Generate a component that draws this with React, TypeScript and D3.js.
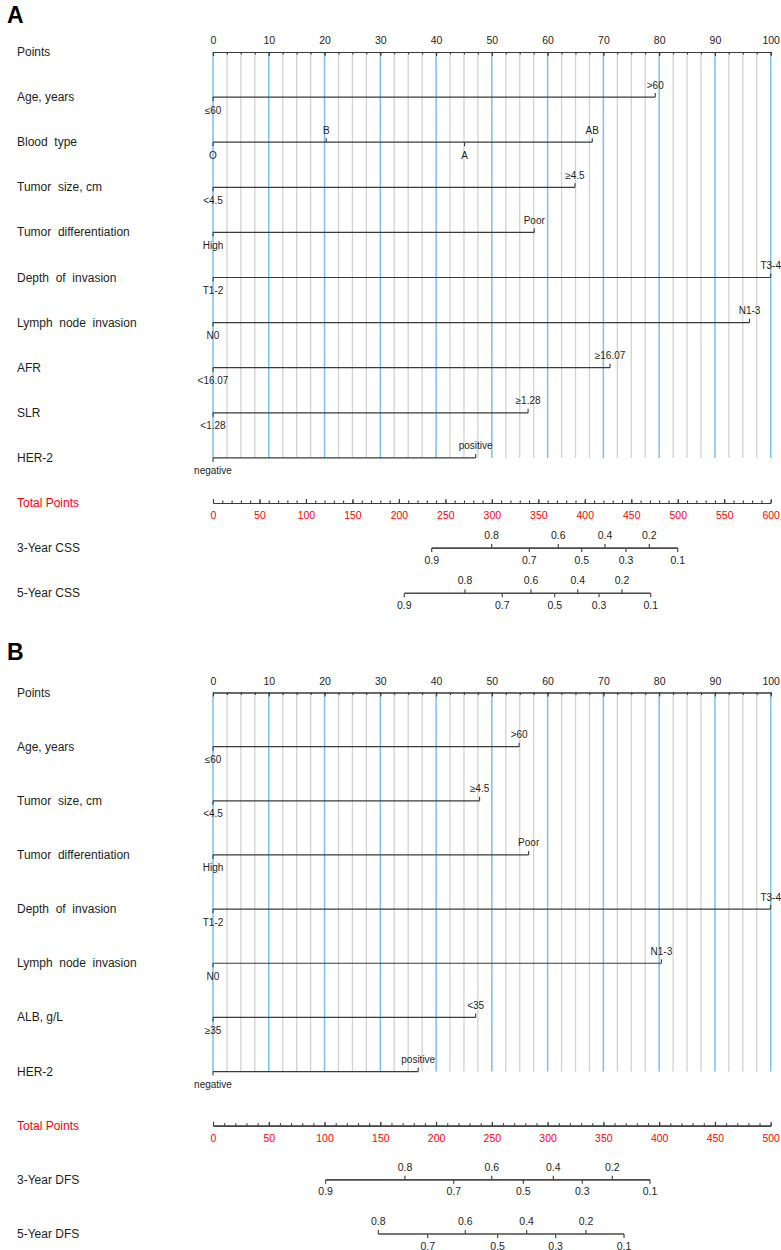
import React, { useEffect, useRef } from 'react';
import * as d3 from 'd3';

const WIDTH = 781;
const HEIGHT = 1250;
const FONT = '"Liberation Sans", Arial, Helvetica, sans-serif';

// ---- Panel A: cancer-specific survival nomogram ----
const pointsTicks = [0, 10, 20, 30, 40, 50, 60, 70, 80, 90, 100];

const factorNamesA = [
  'Age, years',
  'Blood  type',
  'Tumor  size, cm',
  'Tumor  differentiation',
  'Depth  of  invasion',
  'Lymph  node  invasion',
  'AFR',
  'SLR',
  'HER-2',
];
const factorLevelsA = [
  ['≤60', '>60'],
  ['O', 'B', 'A', 'AB'],
  ['<4.5', '≥4.5'],
  ['High', 'Poor'],
  ['T1-2', 'T3-4'],
  ['N0', 'N1-3'],
  ['<16.07', '≥16.07'],
  ['<1.28', '≥1.28'],
  ['negative', 'positive'],
];
const factorPointsA = [
  [0, 79.3],
  [0, 20.3, 45.1, 68],
  [0, 64.9],
  [0, 57.6],
  [0, 100],
  [0, 96.2],
  [0, 71.2],
  [0, 56.5],
  [0, 47.1],
];
const totalTicksA = [0, 50, 100, 150, 200, 250, 300, 350, 400, 450, 500, 550, 600];
const survivalNamesA = ['3-Year CSS', '5-Year CSS'];
const survivalProbsA = [
  [0.9, 0.8, 0.7, 0.6, 0.5, 0.4, 0.3, 0.2, 0.1],
  [0.9, 0.8, 0.7, 0.6, 0.5, 0.4, 0.3, 0.2, 0.1],
];
// total points at which each probability tick sits
const survivalTotalsA = [
  [235.3, 299.8, 340.3, 371.5, 396.7, 421.7, 444.3, 469.4, 500],
  [205.8, 271.1, 311.2, 342.1, 367.6, 392.4, 415.3, 440, 470.9],
];

// ---- Panel B: disease-free survival nomogram ----
const factorNamesB = [
  'Age, years',
  'Tumor  size, cm',
  'Tumor  differentiation',
  'Depth  of  invasion',
  'Lymph  node  invasion',
  'ALB, g/L',
  'HER-2',
];
const factorLevelsB = [
  ['≤60', '>60'],
  ['<4.5', '≥4.5'],
  ['High', 'Poor'],
  ['T1-2', 'T3-4'],
  ['N0', 'N1-3'],
  ['≥35', '<35'],
  ['negative', 'positive'],
];
const factorPointsB = [
  [0, 54.9],
  [0, 47.8],
  [0, 56.6],
  [0, 100],
  [0, 80.4],
  [0, 47.1],
  [0, 36.8],
];
const totalTicksB = [0, 50, 100, 150, 200, 250, 300, 350, 400, 450, 500];
const survivalNamesB = ['3-Year DFS', '5-Year DFS'];
const survivalProbsB = [
  [0.9, 0.8, 0.7, 0.6, 0.5, 0.4, 0.3, 0.2, 0.1],
  [0.8, 0.7, 0.6, 0.5, 0.4, 0.3, 0.2, 0.1],
];
const survivalTotalsB = [
  [101, 172.1, 215.8, 249.9, 278.2, 305.1, 331.1, 358, 391.8],
  [148.2, 192.5, 226.2, 255.2, 281.2, 307.2, 334.4, 368.5],
];

interface PanelOpts {
  letter: string;
  letterY: number;
  top: number;
  step: number;
  factorNames: string[];
  factorLevels: string[][];
  factorPoints: number[][];
  totalTicks: number[];
  survivalNames: string[];
  survivalProbs: number[][];
  survivalTotals: number[][];
}

const X0 = 213;
const X1 = 770.7;
const LABEL_X = 17;
const INK = '#1e1e1e';
const LINE = '#3a3a3a';
const BLUE = '#7cc1ea';
const GRAY = '#d2d2d2';
const RED = '#ff0000';

function drawPanel(svg: d3.Selection<SVGSVGElement, unknown, null, undefined>, o: PanelOpts) {
  const g = svg.append('g');
  const rows = ['Points', ...o.factorNames, 'Total Points', ...o.survivalNames];
  const y = d3.scalePoint<string>()
    .domain(rows)
    .range([o.top, o.top + o.step * (rows.length - 1)]);

  const xPts = d3.scaleLinear().domain([0, 100]).range([X0, X1]);
  const maxTotal = o.totalTicks[o.totalTicks.length - 1];
  const xTot = d3.scaleLinear().domain([0, maxTotal]).range([X0, X1]);

  const yPoints = y('Points')!;
  const yLastFactor = y(o.factorNames[o.factorNames.length - 1])!;
  const yTotal = y('Total Points')!;

  // panel letter
  g.append('text')
    .attr('x', 7)
    .attr('y', o.letterY)
    .attr('font-family', FONT)
    .attr('font-size', 23)
    .attr('font-weight', 'bold')
    .attr('fill', '#000')
    .text(o.letter);

  // minor points step is 2.5 (d3's nice ticks can't produce it)
  const minorPts = d3.range(0, 100.001, 2.5);

  // --- vertical reference grid ---
  g.append('g')
    .selectAll('line')
    .data(minorPts.filter(v => v % 10 !== 0))
    .join('line')
    .attr('x1', d => xPts(d)).attr('x2', d => xPts(d))
    .attr('y1', yPoints).attr('y2', yLastFactor)
    .attr('stroke', GRAY)
    .attr('stroke-width', 1.3);
  g.append('g')
    .selectAll('line')
    .data(pointsTicks)
    .join('line')
    .attr('x1', d => xPts(d)).attr('x2', d => xPts(d))
    .attr('y1', yPoints).attr('y2', yLastFactor)
    .attr('stroke', BLUE)
    .attr('stroke-width', 1.5);

  // --- row labels ---
  g.append('g')
    .selectAll('text')
    .data(rows)
    .join('text')
    .attr('x', LABEL_X)
    .attr('y', d => y(d)!)
    .attr('dominant-baseline', 'central')
    .attr('font-family', FONT)
    .attr('font-size', 12)
    .attr('fill', d => (d === 'Total Points' ? RED : INK))
    .style('white-space', 'pre')
    .text(d => d);

  const styleAxis = (sel: d3.Selection<SVGGElement, unknown, null, undefined>, color: string) => {
    sel.attr('font-family', FONT).attr('font-size', 10.5);
    sel.select('.domain').attr('stroke', LINE).attr('stroke-width', 1.2);
    sel.selectAll('.tick line').attr('stroke', LINE).attr('stroke-width', 1.1);
    sel.selectAll('.tick text').attr('fill', color);
  };

  // --- Points axis (labels above, ticks down) ---
  g.append('g')
    .attr('transform', `translate(0,${yPoints})`)
    .call(d3.axisTop(xPts).tickValues(minorPts).tickFormat(() => '').tickSize(-2.5).tickSizeOuter(0))
    .call(sel => styleAxis(sel, INK));
  g.append('g')
    .attr('transform', `translate(0,${yPoints})`)
    .call(d3.axisTop(xPts).tickValues(pointsTicks).tickSize(-4).tickSizeOuter(0).tickPadding(8))
    .call(sel => styleAxis(sel, INK));

  // --- factor rows ---
  o.factorNames.forEach((name, i) => {
    const yy = y(name)!;
    const pts = o.factorPoints[i];
    const levels = o.factorLevels[i]
      .map((label, j) => ({ label, pts: pts[j] }))
      .sort((a, b) => a.pts - b.pts);
    const row = g.append('g');
    row.append('line')
      .attr('x1', xPts(0)).attr('x2', xPts(d3.max(pts)!))
      .attr('y1', yy).attr('y2', yy)
      .attr('stroke', LINE).attr('stroke-width', 1.2);
    levels.forEach((lv, k) => {
      const up = k % 2 === 1;
      const xx = xPts(lv.pts);
      row.append('line')
        .attr('x1', xx).attr('x2', xx)
        .attr('y1', yy).attr('y2', up ? yy - 4 : yy + 4)
        .attr('stroke', LINE).attr('stroke-width', 1.1);
      row.append('text')
        .attr('x', xx)
        .attr('y', up ? yy - 8.5 : yy + 16.5)
        .attr('text-anchor', 'middle')
        .attr('font-family', FONT)
        .attr('font-size', 10)
        .attr('fill', INK)
        .text(lv.label);
    });
  });

  // --- Total points axis (labels below in red, ticks up) ---
  g.append('g')
    .attr('transform', `translate(0,${yTotal})`)
    .call(d3.axisBottom(xTot).tickValues(d3.range(0, maxTotal + 0.001, 10)).tickFormat(() => '').tickSize(-2.5).tickSizeOuter(0))
    .call(sel => styleAxis(sel, RED));
  g.append('g')
    .attr('transform', `translate(0,${yTotal})`)
    .call(d3.axisBottom(xTot).tickValues(o.totalTicks).tickSize(-4).tickSizeOuter(0).tickPadding(9))
    .call(sel => styleAxis(sel, RED));

  // --- survival probability scales ---
  o.survivalNames.forEach((name, i) => {
    const yy = y(name)!;
    const totals = o.survivalTotals[i];
    const probs = o.survivalProbs[i];
    const row = g.append('g');
    row.append('line')
      .attr('x1', xTot(d3.min(totals)!)).attr('x2', xTot(d3.max(totals)!))
      .attr('y1', yy).attr('y2', yy)
      .attr('stroke', '#4a4a4a').attr('stroke-width', 1.6);
    probs.forEach((p, k) => {
      const up = Math.round(p * 10) % 2 === 0;
      const xx = xTot(totals[k]);
      row.append('line')
        .attr('x1', xx).attr('x2', xx)
        .attr('y1', yy).attr('y2', up ? yy - 4 : yy + 4)
        .attr('stroke', '#4a4a4a').attr('stroke-width', 1.2);
      row.append('text')
        .attr('x', xx)
        .attr('y', up ? yy - 9 : yy + 15.5)
        .attr('text-anchor', 'middle')
        .attr('font-family', FONT)
        .attr('font-size', 10.5)
        .attr('fill', INK)
        .text(d3.format('.1f')(p));
    });
  });
}

export default function App() {
  const svgRef = useRef<SVGSVGElement>(null);

  useEffect(() => {
    if (!svgRef.current) return;
    const svg = d3.select(svgRef.current);
    svg.selectAll('*').remove();

    drawPanel(svg, {
      letter: 'A',
      letterY: 23,
      top: 52,
      step: 45.1,
      factorNames: factorNamesA,
      factorLevels: factorLevelsA,
      factorPoints: factorPointsA,
      totalTicks: totalTicksA,
      survivalNames: survivalNamesA,
      survivalProbs: survivalProbsA,
      survivalTotals: survivalTotalsA,
    });

    drawPanel(svg, {
      letter: 'B',
      letterY: 660,
      top: 692.5,
      step: 54.15,
      factorNames: factorNamesB,
      factorLevels: factorLevelsB,
      factorPoints: factorPointsB,
      totalTicks: totalTicksB,
      survivalNames: survivalNamesB,
      survivalProbs: survivalProbsB,
      survivalTotals: survivalTotalsB,
    });
  }, []);

  return (
    <svg
      ref={svgRef}
      width={WIDTH}
      height={HEIGHT}
      style={{ position: 'absolute', left: 0, top: 0, background: '#fff', display: 'block' }}
    />
  );
}
